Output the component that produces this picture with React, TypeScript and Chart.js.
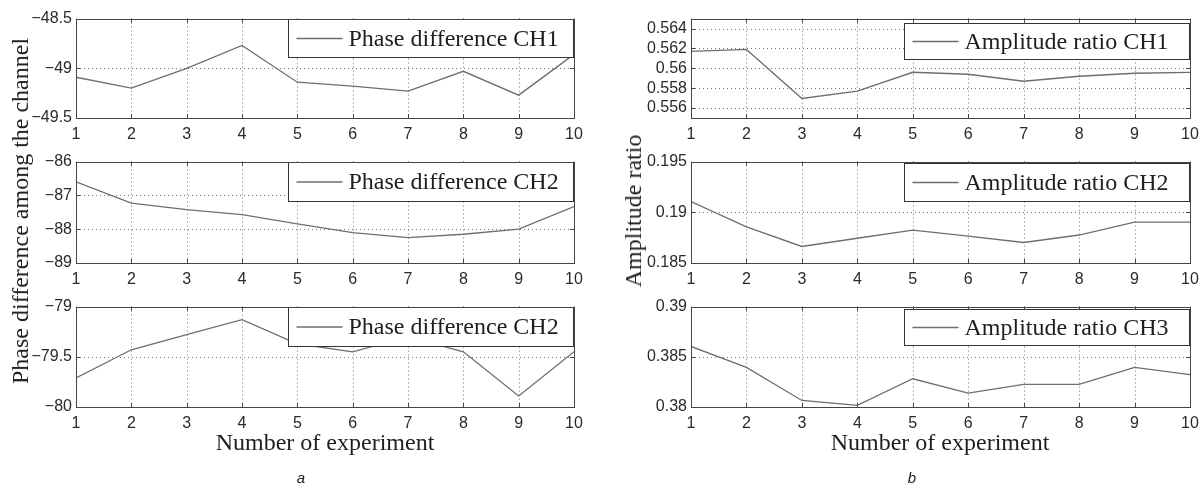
import React, { useEffect, useRef } from 'react';
import { Chart, registerables } from 'chart.js';

Chart.register(...registerables);

// ---------- data ----------
const experiments = [1, 2, 3, 4, 5, 6, 7, 8, 9, 10];
const xTicks = [1, 2, 3, 4, 5, 6, 7, 8, 9, 10];

const phaseCH1 = [-49.09, -49.2, -49.0, -48.77, -49.14, -49.18, -49.23, -49.03, -49.27, -48.86];
const phaseCH2 = [-86.6, -87.23, -87.42, -87.57, -87.84, -88.1, -88.25, -88.15, -88.0, -87.33];
const phaseCH3 = [-79.71, -79.43, -79.28, -79.13, -79.37, -79.45, -79.3, -79.45, -79.89, -79.45];

const ampCH1 = [0.5617, 0.5619, 0.55696, 0.5577, 0.5596, 0.5594, 0.5587, 0.5592, 0.5595, 0.5596];
const ampCH2 = [0.19106, 0.18856, 0.18663, 0.18744, 0.18824, 0.18766, 0.18702, 0.18776, 0.18904, 0.18904];
const ampCH3 = [0.38603, 0.38394, 0.38065, 0.38016, 0.38281, 0.38139, 0.38226, 0.38226, 0.38394, 0.38323];

const phaseCH1Ticks = [-49.5, -49, -48.5];
const phaseCH2Ticks = [-89, -88, -87, -86];
const phaseCH3Ticks = [-80, -79.5, -79];
const ampCH1Ticks = [0.556, 0.558, 0.56, 0.562, 0.564];
const ampCH2Ticks = [0.185, 0.19, 0.195];
const ampCH3Ticks = [0.38, 0.385, 0.39];

const phaseLabels = ['Phase difference CH1', 'Phase difference CH2', 'Phase difference CH2'];
const ampLabels = ['Amplitude ratio CH1', 'Amplitude ratio CH2', 'Amplitude ratio CH3'];

const leftYTitle = 'Phase difference among the channel';
const rightYTitle = 'Amplitude ratio';
const xTitle = 'Number of experiment';

// ---------- layout ----------
const COLS = [
  { left: 76, right: 574 },
  { left: 691, right: 1190 },
];
const ROWS = [
  { top: 15, bottom: 118 },
  { top: 158, bottom: 263 },
  { top: 303, bottom: 407 },
];
const Y_W = 70;
const PAD_T = 10;
const PAD_R = 16;
const X_H = 30;

const LINE_COLOR = '#6e6e6e';
const SERIF = '"Liberation Serif", "Times New Roman", serif';
const SANS = '"Liberation Sans", Arial, sans-serif';

type Panel = {
  values: number[];
  ticks: number[];
  min: number;
  max: number;
  label: string;
  col: number;
  row: number;
  legendDy: number;
  legendH: number;
};

const panels: Panel[] = [
  { values: phaseCH1, ticks: phaseCH1Ticks, min: -49.5, max: -48.5, label: phaseLabels[0], col: 0, row: 0, legendDy: 0, legendH: 38 },
  { values: phaseCH2, ticks: phaseCH2Ticks, min: -89, max: -86, label: phaseLabels[1], col: 0, row: 1, legendDy: 0, legendH: 39 },
  { values: phaseCH3, ticks: phaseCH3Ticks, min: -80, max: -79, label: phaseLabels[2], col: 0, row: 2, legendDy: 0, legendH: 39 },
  { values: ampCH1, ticks: ampCH1Ticks, min: 0.555, max: 0.565, label: ampLabels[0], col: 1, row: 0, legendDy: 4, legendH: 36 },
  { values: ampCH2, ticks: ampCH2Ticks, min: 0.185, max: 0.195, label: ampLabels[1], col: 1, row: 1, legendDy: 1, legendH: 38 },
  { values: ampCH3, ticks: ampCH3Ticks, min: 0.38, max: 0.39, label: ampLabels[2], col: 1, row: 2, legendDy: 2, legendH: 36 },
];

const fmt = (v: number) => {
  const s = String(Number(v.toFixed(6)));
  return s.replace('-', '\u2212');
};

const framePlugin = {
  id: 'matlabFrame',
  beforeDatasetsDraw(chart: any) {
    const { ctx, chartArea, scales } = chart;
    const { left, right, top, bottom } = chartArea;
    const xs = scales.x;
    const ys = scales.y;
    ctx.save();
    // dotted grid
    ctx.strokeStyle = '#777';
    ctx.lineWidth = 1;
    ctx.setLineDash([1, 3]);
    xs.ticks.forEach((t: any) => {
      if (t.value <= xs.min || t.value >= xs.max) return;
      const px = Math.round(xs.getPixelForValue(t.value)) + 0.5;
      ctx.beginPath();
      ctx.moveTo(px, top);
      ctx.lineTo(px, bottom);
      ctx.stroke();
    });
    ys.ticks.forEach((t: any) => {
      if (t.value <= ys.min + 1e-9 || t.value >= ys.max - 1e-9) return;
      const py = Math.round(ys.getPixelForValue(t.value)) + 0.5;
      ctx.beginPath();
      ctx.moveTo(left, py);
      ctx.lineTo(right, py);
      ctx.stroke();
    });
    ctx.setLineDash([]);
    // inward tick marks
    ctx.strokeStyle = '#444';
    const TL = 4;
    xs.ticks.forEach((t: any) => {
      const px = Math.round(xs.getPixelForValue(t.value)) + 0.5;
      ctx.beginPath();
      ctx.moveTo(px, bottom);
      ctx.lineTo(px, bottom - TL);
      ctx.moveTo(px, top);
      ctx.lineTo(px, top + TL);
      ctx.stroke();
    });
    ys.ticks.forEach((t: any) => {
      const py = Math.round(ys.getPixelForValue(t.value)) + 0.5;
      ctx.beginPath();
      ctx.moveTo(left, py);
      ctx.lineTo(left + TL, py);
      ctx.moveTo(right, py);
      ctx.lineTo(right - TL, py);
      ctx.stroke();
    });
    ctx.restore();
  },
  afterDatasetsDraw(chart: any, _args: any, opts: any) {
    const { ctx, chartArea } = chart;
    const { left, right, top, bottom } = chartArea;
    ctx.save();
    // legend box
    const w = 286;
    const h = opts.legendH;
    const x0 = Math.round(right - w) + 0.5;
    const y0 = Math.round(top + opts.legendDy) + 0.5;
    ctx.fillStyle = '#ffffff';
    ctx.fillRect(x0, y0, w, h);
    ctx.strokeStyle = '#333';
    ctx.lineWidth = 1;
    ctx.strokeRect(x0, y0, w - 1, h);
    ctx.strokeStyle = LINE_COLOR;
    ctx.lineWidth = 1.3;
    ctx.beginPath();
    ctx.moveTo(x0 + 8, y0 + h / 2);
    ctx.lineTo(x0 + 54, y0 + h / 2);
    ctx.stroke();
    ctx.fillStyle = '#1e1e1e';
    ctx.font = '24px ' + SERIF;
    ctx.textBaseline = 'middle';
    ctx.textAlign = 'left';
    ctx.fillText(opts.label, x0 + 60, y0 + h / 2 + 1);
    // axes box
    ctx.strokeStyle = '#444';
    ctx.lineWidth = 1;
    ctx.strokeRect(Math.round(left) + 0.5, Math.round(top) + 0.5, Math.round(right - left), Math.round(bottom - top));
    ctx.restore();
  },
};

function PanelChart({ p }: { p: Panel }) {
  const ref = useRef<HTMLCanvasElement | null>(null);
  const col = COLS[p.col];
  const row = ROWS[p.row];
  const width = col.right - col.left + Y_W + PAD_R;
  const height = row.bottom - row.top + PAD_T + X_H;
  useEffect(() => {
    if (!ref.current) return;
    const chart = new Chart(ref.current, {
      type: 'line',
      data: {
        datasets: [
          {
            label: p.label,
            data: p.values.map((v, i) => ({ x: experiments[i], y: v })),
            borderColor: LINE_COLOR,
            borderWidth: 1.3,
            pointRadius: 0,
            tension: 0,
            fill: false,
          },
        ],
      },
      options: {
        animation: false,
        responsive: false,
        maintainAspectRatio: false,
        devicePixelRatio: 1,
        events: [],
        layout: { padding: { left: 0, top: PAD_T, right: PAD_R, bottom: 0 } },
        plugins: {
          legend: { display: false },
          tooltip: { enabled: false },
          matlabFrame: { label: p.label, legendDy: p.legendDy, legendH: p.legendH },
        } as any,
        scales: {
          x: {
            type: 'linear',
            min: 1,
            max: 10,
            afterBuildTicks: (s: any) => {
              s.ticks = xTicks.map((v) => ({ value: v }));
            },
            afterFit: (s: any) => {
              s.height = X_H;
            },
            grid: { display: false, drawTicks: false },
            border: { display: false },
            ticks: {
              padding: 7,
              autoSkip: false,
              maxRotation: 0,
              color: '#2a2a2a',
              font: { family: SANS, size: 16 },
              callback: (v: any) => String(v),
            },
          },
          y: {
            type: 'linear',
            min: p.min,
            max: p.max,
            afterBuildTicks: (s: any) => {
              s.ticks = p.ticks.map((v) => ({ value: v }));
            },
            afterFit: (s: any) => {
              s.width = Y_W;
            },
            grid: { display: false, drawTicks: false },
            border: { display: false },
            ticks: {
              padding: 4,
              autoSkip: false,
              color: '#2a2a2a',
              font: { family: SANS, size: 16 },
              callback: (v: any) => fmt(Number(v)),
            },
          },
        },
      },
      plugins: [framePlugin],
    });
    return () => chart.destroy();
  }, []);
  return (
    <canvas
      ref={ref}
      width={width}
      height={height}
      style={{
        position: 'absolute',
        left: col.left - Y_W,
        top: row.top - PAD_T,
        width,
        height,
      }}
    />
  );
}

const textBase: React.CSSProperties = {
  position: 'absolute',
  whiteSpace: 'nowrap',
  color: '#1e1e1e',
  lineHeight: 1,
};

export default function App() {
  return (
    <div
      style={{
        position: 'fixed',
        left: 0,
        top: 0,
        width: 1204,
        height: 486,
        background: '#ffffff',
        overflow: 'hidden',
      }}
    >
      {panels.map((p, i) => (
        <PanelChart key={i} p={p} />
      ))}
      <div
        style={{
          ...textBase,
          left: 20,
          top: 211,
          fontFamily: SERIF,
          fontSize: 24,
          transform: 'translate(-50%, -50%) rotate(-90deg)',
        }}
      >
        {leftYTitle}
      </div>
      <div
        style={{
          ...textBase,
          left: 633,
          top: 211,
          fontFamily: SERIF,
          fontSize: 24,
          transform: 'translate(-50%, -50%) rotate(-90deg)',
        }}
      >
        {rightYTitle}
      </div>
      <div style={{ ...textBase, left: 325, top: 442, fontFamily: SERIF, fontSize: 24, transform: 'translate(-50%, -50%)' }}>
        {xTitle}
      </div>
      <div style={{ ...textBase, left: 940, top: 442, fontFamily: SERIF, fontSize: 24, transform: 'translate(-50%, -50%)' }}>
        {xTitle}
      </div>
      <div style={{ ...textBase, left: 301, top: 477, fontFamily: SANS, fontStyle: 'italic', fontSize: 15, transform: 'translate(-50%, -50%)' }}>
        a
      </div>
      <div style={{ ...textBase, left: 912, top: 477, fontFamily: SANS, fontStyle: 'italic', fontSize: 15, transform: 'translate(-50%, -50%)' }}>
        b
      </div>
    </div>
  );
}
